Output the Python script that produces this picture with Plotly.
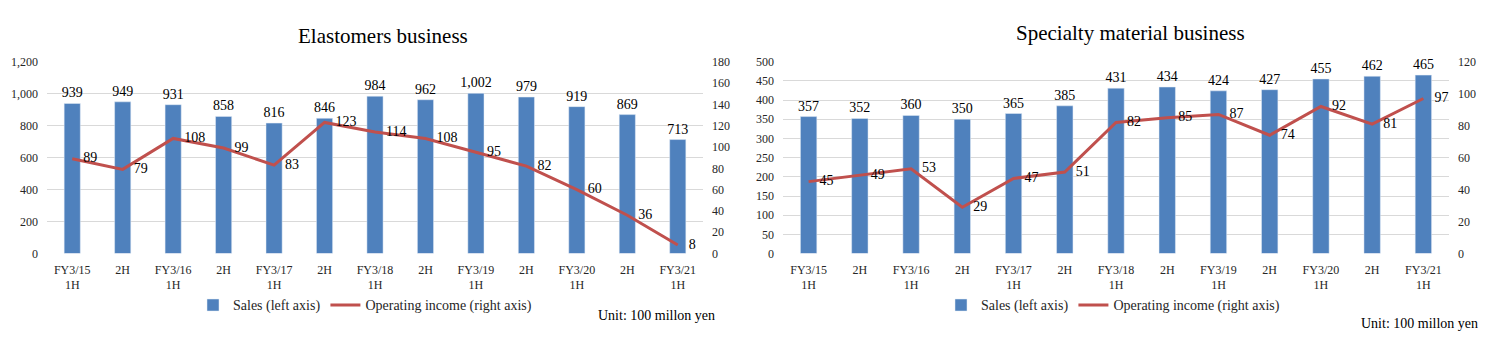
import plotly.graph_objects as go

periods = ["FY3/15<br>1H", "2H", "FY3/16<br>1H", "2H", "FY3/17<br>1H", "2H", "FY3/18<br>1H",
           "2H", "FY3/19<br>1H", "2H", "FY3/20<br>1H", "2H", "FY3/21<br>1H"]
elast_sales = [939, 949, 931, 858, 816, 846, 984, 962, 1002, 979, 919, 869, 713]
elast_oi = [89, 79, 108, 99, 83, 123, 114, 108, 95, 82, 60, 36, 8]
spec_sales = [357, 352, 360, 350, 365, 385, 431, 434, 424, 427, 455, 462, 465]
spec_oi = [45, 49, 53, 29, 47, 51, 82, 85, 87, 74, 92, 81, 97]

W, H = 1504, 346
FONT = "Liberation Serif, Times New Roman, serif"
BAR = "#4F81BD"
LINE = "#C0504D"
GRID = "#D9D9D9"

def px_x(v):
    return v / W

def px_y(v):
    return (H - v) / H

xs = list(range(len(periods)))

fig = go.Figure()

def add_pair(sales, oi, xa, ya_l, ya_r, leg):
    fig.add_trace(go.Bar(x=xs, y=sales, name="Sales (left axis)", marker_color=BAR,
                         xaxis=xa, yaxis=ya_l, texttemplate="%{y:,}", textposition="outside",
                         constraintext="none",
                         textfont=dict(size=14, color="black"), cliponaxis=False, legend=leg,
                         hoverinfo="skip"))
    fig.add_trace(go.Scatter(x=xs, y=oi, name="Operating income (right axis)", mode="lines+markers+text",
                             line=dict(color=LINE, width=3),
                             marker=dict(size=16, color="rgba(0,0,0,0)"),
                             xaxis=xa, yaxis=ya_r,
                             text=[str(v) for v in oi], textposition="middle right",
                             textfont=dict(size=14, color="black"), cliponaxis=False, legend=leg,
                             hoverinfo="skip"))

add_pair(elast_sales, elast_oi, "x", "y", "y2", "legend")
add_pair(spec_sales, spec_oi, "x2", "y3", "y4", "legend2")

ydom = [px_y(257), px_y(57)]
tickfont = dict(family=FONT, size=12, color="#262626")
xcommon = dict(tickmode="array", tickvals=xs, ticktext=periods, range=[-0.5, len(xs) - 0.5],
               showgrid=False, zeroline=False, showline=False, ticks="", tickfont=tickfont,
               ticklabelstandoff=7, fixedrange=True)
ycommon = dict(showline=False, ticks="", tickfont=tickfont, zeroline=False, fixedrange=True,
               ticklabelstandoff=8)

legfont = dict(family=FONT, size=14, color="#262626")

fig.update_layout(
    width=W, height=H, margin=dict(l=0, r=0, t=0, b=0),
    paper_bgcolor="white", plot_bgcolor="white",
    font=dict(family=FONT, color="black"),
    bargap=0.68,
    showlegend=True,
    xaxis=dict(domain=[px_x(47), px_x(703)], anchor="y", **xcommon),
    yaxis=dict(domain=ydom, range=[0, 1200], dtick=200, tickformat=",", showgrid=True, gridcolor=GRID,
               anchor="x", **ycommon),
    yaxis2=dict(domain=ydom, range=[0, 180], dtick=20, overlaying="y", side="right", showgrid=False,
                anchor="x", **ycommon),
    xaxis2=dict(domain=[px_x(783), px_x(1449)], anchor="y3", **xcommon),
    yaxis3=dict(domain=ydom, range=[0, 500], dtick=50, showgrid=True, gridcolor=GRID,
                anchor="x2", **ycommon),
    yaxis4=dict(domain=ydom, range=[0, 120], dtick=20, overlaying="y3", side="right", showgrid=False,
                anchor="x2", **ycommon),
    legend=dict(orientation="h", x=px_x(193), y=px_y(311), xanchor="left", yanchor="middle",
                font=legfont, bgcolor="rgba(0,0,0,0)"),
    legend2=dict(orientation="h", x=px_x(941), y=px_y(311), xanchor="left", yanchor="middle",
                 font=legfont, bgcolor="rgba(0,0,0,0)"),
    annotations=[
        dict(text="Elastomers business", x=px_x(383), y=px_y(30), xref="paper", yref="paper",
             showarrow=False, font=dict(family=FONT, size=21, color="black"), xanchor="center", yanchor="middle"),
        dict(text="Specialty material business", x=px_x(1130), y=px_y(27), xref="paper", yref="paper",
             showarrow=False, font=dict(family=FONT, size=21, color="black"), xanchor="center", yanchor="middle"),
        dict(text="Unit: 100 millon yen", x=px_x(717), y=px_y(322), xref="paper", yref="paper",
             showarrow=False, font=dict(family=FONT, size=14, color="black"), xanchor="right", yanchor="middle"),
        dict(text="Unit: 100 millon yen", x=px_x(1480), y=px_y(330), xref="paper", yref="paper",
             showarrow=False, font=dict(family=FONT, size=14, color="black"), xanchor="right", yanchor="middle"),
    ],
)

fig.write_html("out.html")
